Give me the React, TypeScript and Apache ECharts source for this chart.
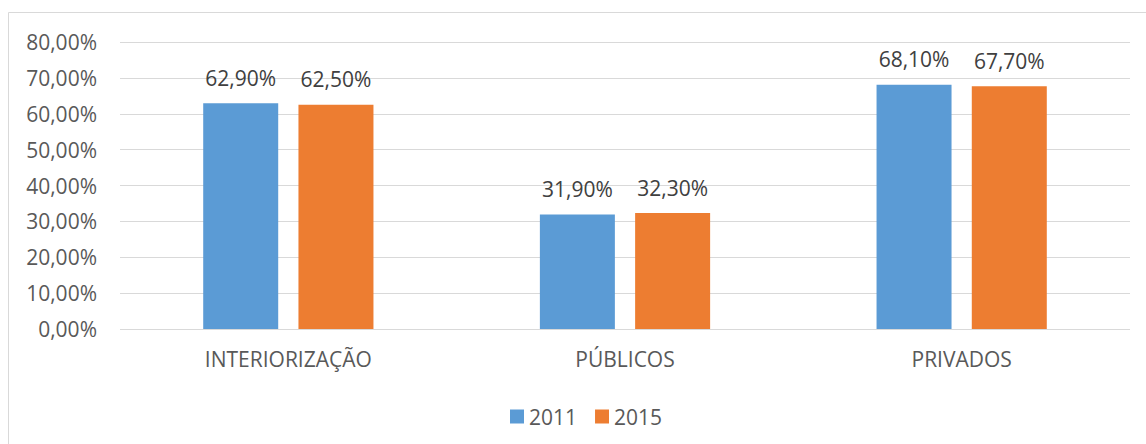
import React, { useEffect, useRef } from "react";
import * as echarts from "echarts";

const categories = ["INTERIORIZAÇÃO", "PÚBLICOS", "PRIVADOS"];
const seriesNames = ["2011", "2015"];
const values2011 = [62.9, 31.9, 68.1];
const values2015 = [62.5, 32.3, 67.7];
const colors = ["#5B9BD5", "#ED7D31"];

const fmt = (v: number, d = 2) => v.toFixed(d).replace(".", ",") + "%";

export default function App() {
  const ref = useRef<HTMLDivElement>(null);
  useEffect(() => {
    if (!ref.current) return;
    const chart = echarts.init(ref.current, null, { renderer: "svg" });
    const font = "'Open Sans', 'Noto Sans', sans-serif";
    const labelCfg = {
      show: true,
      position: "top",
      distance: 15,
      fontSize: 21,
      color: "#404040",
      fontFamily: font,
      formatter: (p: any) => fmt(p.value),
    };
    chart.setOption({
      animation: false,
      textStyle: { fontFamily: font },
      graphic: [
        {
          type: "rect",
          shape: { x: 8.5, y: 12.5, width: 1200, height: 500 },
          style: { fill: "none", stroke: "#D9D9D9", lineWidth: 1 },
          silent: true,
        },
      ],
      grid: { left: 120, right: 16, top: 42, bottom: 115, containLabel: false },
      legend: {
        data: seriesNames,
        left: 505,
        top: 401,
        itemWidth: 14,
        itemHeight: 14,
        itemGap: 18,
        icon: "rect",
        textStyle: { fontSize: 21, color: "#595959", fontFamily: font },
      },
      xAxis: {
        type: "category",
        data: categories,
        axisLine: { show: false },
        axisTick: { show: false },
        axisLabel: { fontSize: 21, color: "#595959", margin: 19, fontFamily: font },
      },
      yAxis: {
        type: "value",
        min: 0,
        max: 80,
        interval: 10,
        axisLine: { show: false },
        axisTick: { show: false },
        splitLine: { lineStyle: { color: "#D9D9D9", width: 1 } },
        axisLabel: {
          fontSize: 21,
          color: "#595959",
          margin: 23,
          fontFamily: font,
          formatter: (v: number) => fmt(v),
        },
      },
      series: [
        {
          name: seriesNames[0],
          type: "bar",
          data: values2011,
          itemStyle: { color: colors[0] },
          barWidth: 75,
          barGap: "27%",
          label: labelCfg,
        },
        {
          name: seriesNames[1],
          type: "bar",
          data: values2015,
          itemStyle: { color: colors[1] },
          barWidth: 75,
          barGap: "27%",
          label: labelCfg,
        },
      ],
    });
    return () => chart.dispose();
  }, []);
  return (
    <div
      ref={ref}
      style={{ position: "fixed", left: 0, top: 0, width: 1146, height: 444, background: "#fff" }}
    />
  );
}
